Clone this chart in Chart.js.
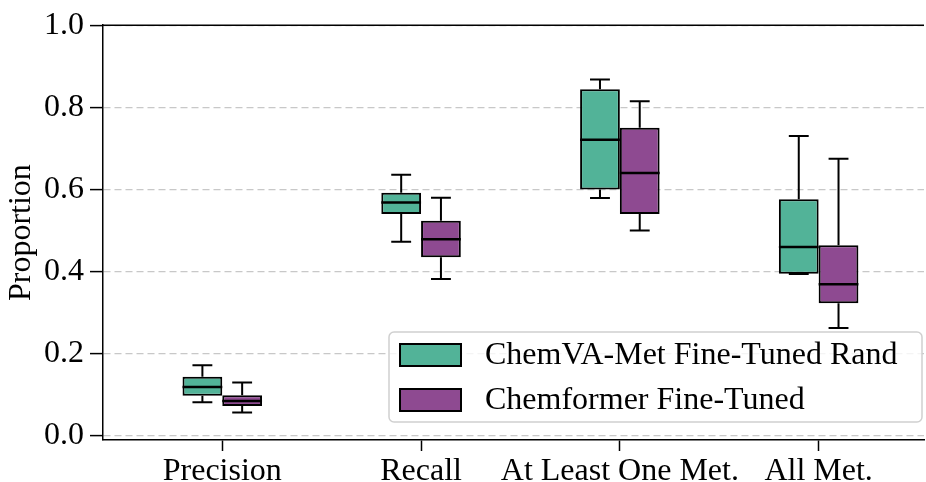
<!DOCTYPE html>
<html>
<head>
<meta charset="utf-8">
<script src="https://cdn.jsdelivr.net/npm/chart.js@4/dist/chart.umd.min.js"></script>
<style>
  html, body { margin: 0; padding: 0; background: #fff; }
  #wrap { width: 926px; height: 482px; position: relative; }
</style>
</head>
<body>
<div id="wrap"><canvas id="boxChart"></canvas></div>
<script>
// Box plot data
const categories = ['Precision', 'Recall', 'At Least One Met.', 'All Met.'];
const seriesNames = ['ChemVA-Met Fine-Tuned Rand', 'Chemformer Fine-Tuned'];
const seriesColors = ['#52b398', '#8e4a91'];

// ChemVA-Met Fine-Tuned Rand
const chemvaWhisLo = [0.082, 0.473, 0.579, 0.394];
const chemvaQ1     = [0.098, 0.540, 0.600, 0.395];
const chemvaMedian = [0.119, 0.568, 0.721, 0.460];
const chemvaQ3     = [0.144, 0.592, 0.844, 0.576];
const chemvaWhisHi = [0.172, 0.636, 0.868, 0.730];

// Chemformer Fine-Tuned
const chemfWhisLo = [0.057, 0.382, 0.500, 0.263];
const chemfQ1     = [0.073, 0.435, 0.540, 0.323];
const chemfMedian = [0.085, 0.479, 0.640, 0.369];
const chemfQ3     = [0.099, 0.524, 0.750, 0.464];
const chemfWhisHi = [0.130, 0.580, 0.815, 0.675];

const yTicks = [0, 0.2, 0.4, 0.6, 0.8, 1.0];

const FONT = "'Liberation Serif', 'DejaVu Serif', serif";
const FONT_SIZE = 32;

function boxData(q1, q3) {
    return categories.map((c, i) => ({ x: i, y: [q1[i], q3[i]] }));
}

const stats = [
    { lo: chemvaWhisLo, med: chemvaMedian, hi: chemvaWhisHi, q1: chemvaQ1, q3: chemvaQ3 },
    { lo: chemfWhisLo, med: chemfMedian, hi: chemfWhisHi, q1: chemfQ1, q3: chemfQ3 }
];

// whiskers, caps and medians drawn on top of the floating bars
const whiskerPlugin = {
    id: 'whiskers',
    afterDatasetsDraw(chart) {
        const ctx = chart.ctx;
        const y = chart.scales.y;
        ctx.save();
        ctx.strokeStyle = '#000';
        chart.data.datasets.forEach((ds, di) => {
            const meta = chart.getDatasetMeta(di);
            const s = stats[di];
            meta.data.forEach((bar, i) => {
                const cx = bar.x;
                const half = bar.width / 2;
                const pLo = y.getPixelForValue(s.lo[i]);
                const pHi = y.getPixelForValue(s.hi[i]);
                const pQ1 = y.getPixelForValue(s.q1[i]);
                const pQ3 = y.getPixelForValue(s.q3[i]);
                const pMed = y.getPixelForValue(s.med[i]);
                ctx.lineWidth = 2;
                ctx.beginPath();
                ctx.moveTo(cx, pQ3); ctx.lineTo(cx, pHi);
                ctx.moveTo(cx, pQ1); ctx.lineTo(cx, pLo);
                ctx.moveTo(cx - half / 2, pHi); ctx.lineTo(cx + half / 2, pHi);
                ctx.moveTo(cx - half / 2, pLo); ctx.lineTo(cx + half / 2, pLo);
                ctx.stroke();
                ctx.lineWidth = 2.5;
                ctx.beginPath();
                ctx.moveTo(cx - half, pMed); ctx.lineTo(cx + half, pMed);
                ctx.stroke();
            });
        });
        ctx.restore();
    }
};

// top spine + legend box in the lower right of the plot
const framePlugin = {
    id: 'frame',
    afterDraw(chart) {
        const ctx = chart.ctx;
        const a = chart.chartArea;
        ctx.save();
        ctx.strokeStyle = '#000';
        ctx.lineWidth = 1.5;
        ctx.beginPath();
        ctx.moveTo(a.left, a.top);
        ctx.lineTo(a.right, a.top);
        ctx.stroke();

        // legend
        const lx = 389, ly = 332, lw = 533, lh = 90;
        ctx.beginPath();
        ctx.roundRect(lx, ly, lw, lh, 5);
        ctx.fillStyle = 'rgba(255,255,255,0.8)';
        ctx.fill();
        ctx.strokeStyle = '#d0d0d0';
        ctx.lineWidth = 1.5;
        ctx.stroke();

        ctx.font = FONT_SIZE + 'px ' + FONT;
        ctx.textBaseline = 'middle';
        chart.data.datasets.forEach((ds, di) => {
            const rowY = 355 + di * 45;
            ctx.fillStyle = ds.backgroundColor;
            ctx.fillRect(400, rowY - 11, 61, 22);
            ctx.strokeStyle = '#000';
            ctx.lineWidth = 2;
            ctx.strokeRect(400, rowY - 11, 61, 22);
            ctx.fillStyle = '#000';
            ctx.fillText(ds.label, 485, rowY + 1);
        });
        ctx.restore();
    }
};

new Chart(document.getElementById('boxChart'), {
    type: 'bar',
    data: {
        datasets: seriesNames.map((name, di) => ({
            label: name,
            data: boxData(stats[di].q1, stats[di].q3),
            backgroundColor: seriesColors[di],
            borderColor: '#000',
            borderWidth: 2,
            borderSkipped: false,
            categoryPercentage: 0.4,
            barPercentage: 1.0
        }))
    },
    options: {
        responsive: true,
        maintainAspectRatio: false,
        animation: false,
        layout: { padding: { top: 24, right: 2, left: 0, bottom: 0 } },
        plugins: {
            legend: { display: false },
            tooltip: { enabled: false }
        },
        scales: {
            x: {
                type: 'linear',
                min: -0.6,
                max: 3.53,
                offset: false,
                afterBuildTicks: scale => {
                    scale.ticks = categories.map((c, i) => ({ value: i }));
                },
                afterFit: scale => { scale.height = 42; },
                ticks: {
                    callback: value => categories[value],
                    color: '#000',
                    font: { family: FONT, size: FONT_SIZE },
                    padding: 1,
                    maxRotation: 0,
                    autoSkip: false
                },
                grid: {
                    offset: false,
                    drawOnChartArea: false,
                    tickLength: 11,
                    tickColor: '#000',
                    tickWidth: 1.5
                },
                border: { color: '#000', width: 1.5 }
            },
            y: {
                min: -0.01,
                max: 1.0,
                afterBuildTicks: scale => {
                    scale.ticks = yTicks.map(v => ({ value: v }));
                },
                afterFit: scale => { scale.width = 103; },
                ticks: {
                    callback: value => value.toFixed(1),
                    color: '#000',
                    font: { family: FONT, size: FONT_SIZE },
                    padding: 6
                },
                title: {
                    display: true,
                    text: 'Proportion',
                    color: '#000',
                    font: { family: FONT, size: FONT_SIZE },
                    padding: { top: 2, bottom: 0 }
                },
                grid: {
                    color: '#c8c8c8',
                    lineWidth: 1.2,
                    tickLength: 13,
                    tickColor: '#000',
                    tickWidth: 1.5
                },
                border: { color: '#000', width: 1.5, dash: [7, 4] }
            }
        }
    },
    plugins: [whiskerPlugin, framePlugin]
});
</script>
</body>
</html>
